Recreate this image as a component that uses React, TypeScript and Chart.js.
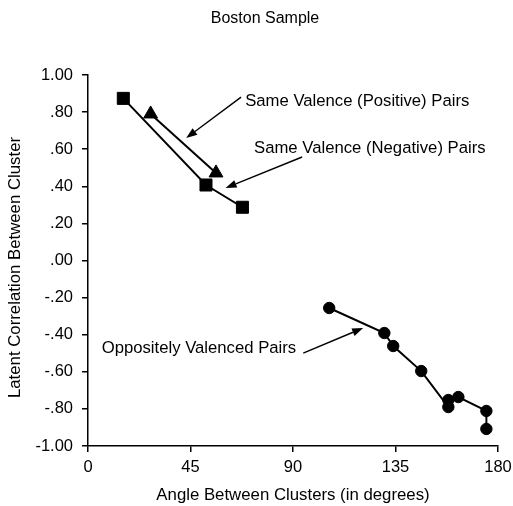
import { useEffect, useRef } from "react";
import { Chart, registerables } from "chart.js";

Chart.register(...registerables);

const FONT = "'Liberation Sans', Arial, Helvetica, sans-serif";

const chartTitle = "Boston Sample";
const xAxisTitle = "Angle Between Clusters (in degrees)";
const yAxisTitle = "Latent Correlation Between Cluster";

const xTickValues = [0, 45, 90, 135, 180];
const yTickValues = [-1, -0.8, -0.6, -0.4, -0.2, 0, 0.2, 0.4, 0.6, 0.8, 1];

// Same Valence (Positive) Pairs – triangles
const posAngles = [27.5, 56.2];
const posCorr = [0.79, 0.472];

// Same Valence (Negative) Pairs – squares
const negAngles = [15.5, 51.8, 67.8];
const negCorr = [0.874, 0.407, 0.287];

// Oppositely Valenced Pairs – circles
const oppAngles = [105.9, 130.1, 134.0, 146.3, 158.2, 158.2, 162.6, 174.9, 174.9];
const oppCorr = [-0.256, -0.391, -0.461, -0.596, -0.79, -0.752, -0.736, -0.811, -0.908];

// Annotations (data coordinates)
const noteLabels = [
  "Same Valence (Positive) Pairs",
  "Same Valence (Negative) Pairs",
  "Oppositely Valenced Pairs",
];
const noteTextX = [69.0, 72.9, 6.0];
const noteTextY = [0.856, 0.606, -0.473];
const noteFromX = [67.2, 94.0, 94.5];
const noteFromY = [0.881, 0.558, -0.499];
const noteToX = [43.1, 60.4, 120.8];
const noteToY = [0.66, 0.391, -0.364];

function fmtTick(v: number): string {
  const r = Math.round(v * 100) / 100;
  let s = r.toFixed(2);
  if (s.startsWith("0.")) s = s.slice(1);
  else if (s.startsWith("-0.")) s = "-" + s.slice(2);
  return s;
}

const notesPlugin = {
  id: "notes",
  afterDatasetsDraw(chart: any) {
    const { ctx } = chart;
    const xs = chart.scales.x;
    const ys = chart.scales.y;
    ctx.save();
    ctx.fillStyle = "#000";
    ctx.strokeStyle = "#000";
    ctx.font = `16.7px ${FONT}`;
    ctx.textBaseline = "middle";
    ctx.textAlign = "left";
    noteLabels.forEach((t, i) => {
      ctx.fillText(t, xs.getPixelForValue(noteTextX[i]), ys.getPixelForValue(noteTextY[i]));
      const x0 = xs.getPixelForValue(noteFromX[i]);
      const y0 = ys.getPixelForValue(noteFromY[i]);
      const x1 = xs.getPixelForValue(noteToX[i]);
      const y1 = ys.getPixelForValue(noteToY[i]);
      const ang = Math.atan2(y1 - y0, x1 - x0);
      const L = 11;
      const W = 4;
      const bx = x1 - L * Math.cos(ang);
      const by = y1 - L * Math.sin(ang);
      ctx.lineWidth = 1.4;
      ctx.beginPath();
      ctx.moveTo(x0, y0);
      ctx.lineTo(bx, by);
      ctx.stroke();
      ctx.beginPath();
      ctx.moveTo(x1, y1);
      ctx.lineTo(bx + W * Math.sin(ang), by - W * Math.cos(ang));
      ctx.lineTo(bx - W * Math.sin(ang), by + W * Math.cos(ang));
      ctx.closePath();
      ctx.fill();
    });
    // chart title
    ctx.font = `16px ${FONT}`;
    ctx.textAlign = "center";
    ctx.fillText(chartTitle, 265, 19);
    // y axis title
    ctx.font = `16.8px ${FONT}`;
    ctx.translate(15, 267.5);
    ctx.rotate(-Math.PI / 2);
    ctx.fillText(yAxisTitle, 0, 0);
    ctx.restore();
  },
};

function toPoints(xv: number[], yv: number[]) {
  return xv.map((x, i) => ({ x, y: yv[i] }));
}

export default function App() {
  const ref = useRef<HTMLCanvasElement | null>(null);
  useEffect(() => {
    if (!ref.current) return;
    const common = {
      borderColor: "#000",
      backgroundColor: "#000",
      pointBackgroundColor: "#000",
      pointBorderColor: "#000",
      borderWidth: 2,
      pointBorderWidth: 1,
      showLine: true,
    };
    const chart = new Chart(ref.current, {
      type: "scatter",
      data: {
        datasets: [
          {
            ...common,
            label: "Same Valence (Negative) Pairs",
            data: toPoints(negAngles, negCorr),
            pointStyle: "rect",
            pointRadius: 8.5,
          },
          {
            ...common,
            label: "Same Valence (Positive) Pairs",
            data: toPoints(posAngles, posCorr),
            pointStyle: "triangle",
            pointRadius: 8,
          },
          {
            ...common,
            label: "Oppositely Valenced Pairs",
            data: toPoints(oppAngles, oppCorr),
            pointStyle: "circle",
            pointRadius: 5.7,
          },
        ],
      },
      options: {
        animation: false,
        responsive: false,
        events: [],
        layout: { padding: { top: 75, right: 15, bottom: 0, left: 0 } },
        plugins: {
          legend: { display: false },
          tooltip: { enabled: false },
          title: { display: false },
        },
        scales: {
          x: {
            type: "linear",
            min: 0,
            max: 180,
            afterFit(scale: any) {
              scale.height = 60;
              scale.paddingLeft = 0;
              scale.paddingRight = 0;
            },
            afterBuildTicks(scale: any) {
              scale.ticks = xTickValues.map((v) => ({ value: v }));
            },
            border: { display: true, color: "#000", width: 1.5 },
            grid: {
              display: true,
              drawOnChartArea: false,
              drawTicks: true,
              tickLength: 6,
              color: "#000",
              lineWidth: 1.5,
            },
            ticks: {
              color: "#000",
              padding: 6,
              maxRotation: 0,
              font: { family: FONT, size: 16.5 },
              callback: (v: any) => String(v),
            },
            title: {
              display: true,
              text: xAxisTitle,
              color: "#000",
              font: { family: FONT, size: 16.8 },
              padding: { top: 0, bottom: 0.5 },
            },
          },
          y: {
            type: "linear",
            min: -1,
            max: 1,
            afterFit(scale: any) {
              scale.width = 88;
              scale.paddingTop = 0;
              scale.paddingBottom = 0;
            },
            afterBuildTicks(scale: any) {
              scale.ticks = yTickValues.map((v) => ({ value: v }));
            },
            border: { display: true, color: "#000", width: 1.5 },
            grid: {
              display: true,
              drawOnChartArea: false,
              drawTicks: true,
              tickLength: 6,
              color: "#000",
              lineWidth: 1.5,
            },
            ticks: {
              color: "#000",
              padding: 9,
              font: { family: FONT, size: 16.5 },
              callback: (v: any) => fmtTick(Number(v)),
            },
          },
        },
      },
      plugins: [notesPlugin],
    } as any);
    return () => chart.destroy();
  }, []);
  return (
    <div style={{ position: "fixed", left: 0, top: 0, width: 513, height: 506, background: "#fff" }}>
      <canvas ref={ref} width={513} height={506} style={{ display: "block" }} />
    </div>
  );
}
